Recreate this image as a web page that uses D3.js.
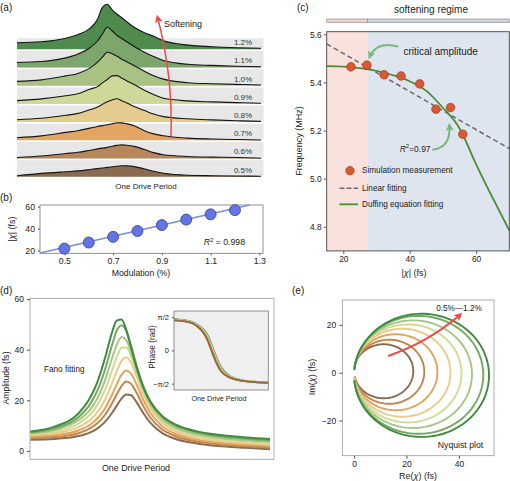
<!DOCTYPE html>
<html><head><meta charset="utf-8">
<script src="https://cdn.jsdelivr.net/npm/d3@7"></script>
<style>
body{margin:0;background:#fff}
svg{display:block;font-family:"Liberation Sans",Arial,sans-serif}
</style></head><body>
<svg id="c" width="510" height="481"></svg>
<script>
// ---------------- DATA ----------------
const levels = ["0.5%","0.6%","0.7%","0.8%","0.9%","1.0%","1.1%","1.2%"];
const modulation = [0.5,0.6,0.7,0.8,0.9,1.0,1.1,1.2];

// (a) waterfall heights on a shared grid (fraction of one drive period)
const waterGrid = [0,.1,.2,.25,.3,.33,.35,.37,.39,.41,.43,.45,.48,.52,.56,.6,.7,.8,.9,1];
const water05 = [1,3.3,5,5.8,7.2,8.1,8.7,9.3,9.9,10.4,11,10.8,10.1,8,5.4,3.5,1.5,1,0.7,0.4];
const water06 = [1,2.5,5,6.2,8.3,9.6,10.4,11.1,12.2,13.1,13.6,13.3,12.1,9.2,5.9,3.7,2,1.4,1,0.3];
const water07 = [2.6,4.4,7.9,9.6,12.2,13.8,14.7,15.6,16.6,17.5,17.4,16.5,14.6,9.8,6.4,4.5,2.2,1.3,0.8,0.3];
const water08 = [2.4,3.8,6.8,8.7,12.5,15.1,17.8,20.3,22.2,23.4,21.2,19,15.5,11.8,8,5.5,3.3,2.2,1.4,0.7];
const water09 = [3.3,5,8.1,10.1,14.8,17.3,21,24.4,28,28.3,25.6,23,19.3,14,9.4,5.6,3,2,1.3,0.7];
const water10 = [4.3,5.8,9.8,12.2,17.8,23.5,28.5,33.5,32,29.5,26.5,24,20,14.8,10,6.6,3,2,1.3,0.7];
const water11 = [5,6,9.6,13.5,20,26.5,33.5,40.5,36.5,32,28.8,25.7,21,15.6,11,7,3.2,2.1,1.3,0.7];
const water12 = [6.6,7.5,11,14.8,21.2,30,42,45,39.5,35,31.5,27.5,22,16.8,13,8.5,4.2,2.6,1.6,1.0];
const waterfall = [water05,water06,water07,water08,water09,water10,water11,water12];

// (b) peak amplitude vs modulation
const peakAmp = [21.8,27.3,32.5,37.8,43.2,48.2,53,56.8];
const fitB_x = [0.4,1.26];
const fitB_y = [17.8,61.5];
const bTicksX = [0.5,0.7,0.9,1.1,1.3];
const bTicksY = [20,40,60];

// (c) frequency vs amplitude
const simAmp  = [22.3,27.1,32.3,37.4,43.0,47.9,52.3,56.0];
const simFreq = [5.465,5.472,5.432,5.427,5.394,5.289,5.296,5.185];
const linX = [15,70];
const linY = [5.56,5.125];
const duffX = [15,20,25,30,35,40,45,50,55,60,65,70];
const duffY = [5.468,5.466,5.46,5.448,5.43,5.405,5.365,5.295,5.21,5.06,4.92,4.785];
const criticalAmp = 27.25;
const cTicksX = [20,40,60];
const cTicksY = [4.8,5.0,5.2,5.4,5.6];

// (d) Fano-fitted amplitude curves
const fanoGrid = [0,.1,.2,.25,.28,.31,.34,.36,.38,.40,.42,.44,.47,.5,.55,.6,.7,.8,.9,1];
const fano05 = [4.45,4.73,5.87,7.37,8.94,11.37,14.97,17.9,20.7,22.3,22.0,19.7,15.1,11.2,7.07,4.9,2.87,1.87,1.22,0.7];
const fano06 = [5.04,5.48,7.01,8.98,11.0,14.1,18.7,22.3,25.6,27.4,26.5,23.5,17.9,13.2,8.5,6.0,3.64,2.53,1.84,1.29];
const fano07 = [5.63,6.18,8.08,10.45,12.9,16.6,22.1,26.3,30.1,31.8,30.5,26.9,20.4,15.1,9.8,7.0,4.38,3.18,2.41,1.87];
const fano08 = [6.27,7.0,9.41,12.3,15.4,20.0,26.6,31.5,35.6,37.0,34.8,30.3,22.8,17.0,11.1,8.0,5.14,3.84,3.03,2.47];
const fano09 = [6.6,7.6,10.8,14.5,18.2,23.9,31.7,37.1,40.8,41.0,37.4,32.0,23.9,17.9,11.9,8.8,5.85,4.5,3.7,3.1];
const fano10 = [7.0,8.3,12.1,16.4,20.9,27.6,36.4,41.9,45.0,43.8,39.1,33.0,24.6,18.6,12.6,9.45,6.47,5.06,4.26,3.67];
const fano11 = [7.3,8.9,13.3,18.7,24.0,31.8,41.7,47.5,49.7,47.3,41.5,34.7,25.8,19.6,13.5,10.25,7.13,5.66,4.82,4.2];
const fano12 = [7.7,9.6,14.8,21.2,27.4,36.3,46.7,51.5,51.9,47.8,40.9,33.96,25.4,19.5,13.8,10.7,7.63,6.2,5.33,4.74];
const fano = [fano05,fano06,fano07,fano08,fano09,fano10,fano11,fano12];
const dTicksY = [0,20,40,60];

// (d) inset phase
const phaseGrid = [0,.1,.2,.25,.3,.33,.36,.39,.42,.45,.5,.6,.7,.85,1];
const phase05 = [1.42,1.38,1.27,1.12,0.90,0.70,0.42,0.08,-0.28,-0.60,-1.00,-1.30,-1.42,-1.50,-1.53];
const phase06 = [1.42,1.38,1.27,1.13,0.92,0.73,0.46,0.12,-0.24,-0.57,-0.98,-1.29,-1.42,-1.50,-1.53];
const phase07 = [1.43,1.39,1.28,1.14,0.94,0.76,0.50,0.16,-0.20,-0.53,-0.96,-1.28,-1.41,-1.49,-1.53];
const phase08 = [1.43,1.39,1.29,1.15,0.96,0.79,0.53,0.20,-0.16,-0.49,-0.93,-1.27,-1.41,-1.49,-1.52];
const phase09 = [1.44,1.40,1.30,1.16,0.98,0.82,0.57,0.24,-0.12,-0.45,-0.90,-1.26,-1.40,-1.49,-1.52];
const phase10 = [1.45,1.41,1.31,1.18,1.00,0.85,0.61,0.28,-0.08,-0.41,-0.87,-1.25,-1.40,-1.48,-1.52];
const phase11 = [1.46,1.42,1.32,1.19,1.02,0.88,0.65,0.32,-0.04,-0.37,-0.84,-1.24,-1.39,-1.48,-1.51];
const phase12 = [1.47,1.43,1.33,1.20,1.04,0.90,0.68,0.36,0.00,-0.33,-0.81,-1.23,-1.39,-1.48,-1.51];
const phase = [phase05,phase06,phase07,phase08,phase09,phase10,phase11,phase12];
const phaseTickVals = [Math.PI/2,0,-Math.PI/2];
const phaseTickLabels = ["π/2","0","−π/2"];

// (e) Nyquist circles (diameter along Re, vertical centre offset)
const nyqDiam = [22.6,26.8,31.8,36.8,41,45,49.3,51.5];
const nyqCenterY = [0.6,0.4,0.2,0,-0.3,-0.6,-0.9,-1.1];
const eTicksX = [0,20,40];
const eTicksY = [-20,0,20];

// ---------------- STYLE ----------------
const fillColors = ["#8b6b4f","#b7875c","#e2a562","#e3cc8e","#cdd899","#a7c283","#7da66d","#4f8b4d"];
const lineColors = ["#8b6a4e","#c4854b","#e4a25a","#ebcb8c","#cfdb93","#a6c683","#74a863","#3f8a3e"];
const FONT = '"Liberation Sans", Arial, sans-serif';
const svg = d3.select("#c");
const defs = svg.append("defs");
function marker(id,color,size){
  defs.append("marker").attr("id",id).attr("viewBox","0 0 10 10")
    .attr("refX",7).attr("refY",5).attr("markerWidth",size).attr("markerHeight",size)
    .attr("orient","auto").attr("markerUnits","userSpaceOnUse")
    .append("path").attr("d","M0,0L10,5L0,10L2.5,5z").attr("fill",color);
}
marker("redArrow","#f04848",8);
marker("grnArrow","#78b878",8);

function txt(g,x,y,s,size,o={}){
  const t=g.append("text").attr("x",x).attr("y",y).attr("font-size",size)
    .attr("fill",o.fill||"#222").attr("text-anchor",o.anchor||"start")
    .attr("dominant-baseline","central").attr("font-family",FONT).text(s);
  if(o.rotate) t.attr("transform",`rotate(-90,${x},${y})`);
  if(o.italic) t.attr("font-style","italic");
  return t;
}
function styleAxis(g,size){
  g.select(".domain").remove();
  g.selectAll("text").attr("font-size",size).attr("fill","#222").attr("font-family",FONT);
  g.selectAll("line").attr("stroke","#555");
}
function chiLabel(g,x,y,pre,post,size,rotate){
  const t=g.append("text").attr("x",x).attr("y",y).attr("font-size",size).attr("fill","#222")
    .attr("text-anchor","middle").attr("dominant-baseline","central").attr("font-family",FONT);
  t.append("tspan").text(pre);
  t.append("tspan").attr("font-style","italic").text("χ");
  t.append("tspan").text(post);
  if(rotate) t.attr("transform",`rotate(-90,${x},${y})`);
}
function r2Label(g,x,y,val,size,anchor){
  const t=g.append("text").attr("x",x).attr("y",y).attr("font-size",size).attr("fill","#222")
    .attr("text-anchor",anchor).attr("dominant-baseline","central").attr("font-family",FONT);
  t.append("tspan").attr("font-style","italic").text("R");
  t.append("tspan").attr("font-size",size*0.7).attr("dy",-size*0.35).text("2");
  t.append("tspan").attr("dy",size*0.35).text(val);
}

// ---------------- (a) ----------------
const gA = svg.append("g");
txt(gA,0,7,"(a)",10);
const ax = d3.scaleLinear().domain([0,1]).range([17,261]);
const aBase = d3.scaleLinear().domain([0,7]).range([176.7,49.3]);
const aH = d3.scaleLinear().domain([0,50]).range([0,50]);
for(let i=7;i>=0;i--){
  const b = aBase(i);
  const bandH = i===7 ? 11 : 16.5;
  gA.append("rect").attr("x",ax(0)).attr("y",b-bandH).attr("width",ax(1)+2.5-ax(0)).attr("height",bandH).attr("fill","#e7e7e7");
  const pts = waterGrid.map((f,j)=>[f,waterfall[i][j]]);
  gA.append("path").attr("d",d3.area().x(d=>ax(d[0])).y0(b).y1(d=>b-aH(d[1])).curve(d3.curveMonotoneX)(pts))
    .attr("fill",fillColors[i]);
  gA.append("path").attr("d",d3.line().x(d=>ax(d[0])).y(d=>b-aH(d[1])).curve(d3.curveMonotoneX)(pts))
    .attr("fill","none").attr("stroke","#151515").attr("stroke-width",1.1);
  txt(gA,243,b-6.7,levels[i],8,{anchor:"middle",fill:"#333"});
}
gA.append("path").attr("d","M171,136 Q173,76 157.5,17").attr("fill","none")
  .attr("stroke","#f04848").attr("stroke-width",1.5).attr("marker-end","url(#redArrow)");
txt(gA,164,24,"Softening",9);
txt(gA,146,186,"One Drive Period",8,{anchor:"middle"});

// ---------------- (b) ----------------
const gB = svg.append("g");
txt(gB,0,197,"(b)",10);
const bx = d3.scaleLinear().domain([0.4,1.315]).range([40,263]);
const by = d3.scaleLinear().domain([17.5,61.5]).range([253.3,205]);
gB.append("rect").attr("x",40).attr("y",205).attr("width",223).attr("height",48.3).attr("fill","none").attr("stroke","#777").attr("stroke-width",0.8);
gB.append("line").attr("x1",bx(fitB_x[0])).attr("y1",by(fitB_y[0])).attr("x2",bx(fitB_x[1])).attr("y2",by(fitB_y[1]))
  .attr("stroke","#7d8cd6").attr("stroke-width",1.5);
gB.selectAll("circle.pt").data(modulation).join("circle").attr("class","pt")
  .attr("cx",d=>bx(d)).attr("cy",(d,i)=>by(peakAmp[i])).attr("r",5.5)
  .attr("fill","#6275e2").attr("stroke","#34408f").attr("stroke-width",0.8);
const bxa = gB.append("g").attr("transform","translate(0,253.3)").call(d3.axisBottom(bx).tickValues(bTicksX).tickFormat(d3.format(".1f")).tickSize(2).tickPadding(3));
styleAxis(bxa,8.7);
const bya = gB.append("g").attr("transform","translate(40,0)").call(d3.axisLeft(by).tickValues(bTicksY).tickSize(2).tickPadding(3));
styleAxis(bya,8.7);
r2Label(gB,245,242,"\u00a0= 0.998",8.7,"end");
chiLabel(gB,12,229,"|","| (fs)",9,true);
txt(gB,141,273,"Modulation (%)",8.7,{anchor:"middle"});

// ---------------- (c) ----------------
const gC = svg.append("g");
txt(gC,297,7,"(c)",10);
const cx = d3.scaleLinear().domain([15,70]).range([326.7,509.3]);
const cy = d3.scaleLinear().domain([4.7,5.611]).range([250.9,31.7]);
txt(gC,431,9,"softening regime",10,{anchor:"middle"});
gC.append("rect").attr("x",cx(15)).attr("y",19).attr("width",cx(criticalAmp)-cx(15)).attr("height",3.3).attr("fill","#f4d3cb").attr("stroke","#8a8a8a").attr("stroke-width",0.7);
gC.append("rect").attr("x",cx(criticalAmp)).attr("y",19).attr("width",cx(70)-cx(criticalAmp)).attr("height",3.3).attr("fill","#cbd5e4").attr("stroke","#8a8a8a").attr("stroke-width",0.7);
gC.append("rect").attr("x",cx(15)).attr("y",cy(5.611)).attr("width",cx(criticalAmp)-cx(15)).attr("height",cy(4.7)-cy(5.611)).attr("fill","#fae2dc");
gC.append("rect").attr("x",cx(criticalAmp)).attr("y",cy(5.611)).attr("width",cx(70)-cx(criticalAmp)).attr("height",cy(4.7)-cy(5.611)).attr("fill","#dfe5ef");
gC.append("line").attr("x1",cx(linX[0])).attr("y1",cy(linY[0])).attr("x2",cx(linX[1])).attr("y2",cy(linY[1]))
  .attr("stroke","#6b6b6f").attr("stroke-width",1.5).attr("stroke-dasharray","5,3");
gC.append("path").attr("d",d3.line().x(d=>cx(d[0])).y(d=>cy(d[1])).curve(d3.curveMonotoneX)(duffX.map((v,i)=>[v,duffY[i]])))
  .attr("fill","none").attr("stroke","#4a8c38").attr("stroke-width",1.8);
gC.selectAll("circle.pt").data(simAmp).join("circle").attr("class","pt")
  .attr("cx",d=>cx(d)).attr("cy",(d,i)=>cy(simFreq[i])).attr("r",4.3)
  .attr("fill","#dc5733").attr("stroke","#9c3c22").attr("stroke-width",0.7);
gC.append("rect").attr("x",cx(15)).attr("y",cy(5.611)).attr("width",cx(70)-cx(15)).attr("height",cy(4.7)-cy(5.611)).attr("fill","none").attr("stroke","#444").attr("stroke-width",0.9);
const cxa = gC.append("g").attr("transform",`translate(0,${cy(4.7)})`).call(d3.axisBottom(cx).tickValues(cTicksX).tickSize(3).tickPadding(2));
styleAxis(cxa,8.4);
const cya = gC.append("g").attr("transform",`translate(${cx(15)},0)`).call(d3.axisLeft(cy).tickValues(cTicksY).tickFormat(d3.format(".1f")).tickSize(3).tickPadding(2));
styleAxis(cya,8.4);
txt(gC,299,141,"Frequency (MHz)",9,{anchor:"middle",rotate:true});
chiLabel(gC,414,273,"|","| (fs)",9,false);
// annotations
gC.append("path").attr("d",`M${cx(36.6)},${cy(5.549)} Q${cx(30.1)},${cy(5.575)} ${cx(27.9)},${cy(5.506)}`)
  .attr("fill","none").attr("stroke","#78b878").attr("stroke-width",2).attr("marker-end","url(#grnArrow)");
txt(gC,cx(38.1),cy(5.527),"critical amplitude",10);
gC.append("path").attr("d",`M${cx(46.8)},${cy(5.12)} Q${cx(52.4)},${cy(5.128)} ${cx(52.0)},${cy(5.222)}`)
  .attr("fill","none").attr("stroke","#78b878").attr("stroke-width",2).attr("marker-end","url(#grnArrow)");
r2Label(gC,cx(46.3),cy(5.124),"=0.97",8.5,"end");
// legend
gC.append("circle").attr("cx",350).attr("cy",170.7).attr("r",4.2).attr("fill","#dc5733").attr("stroke","#9c3c22").attr("stroke-width",0.7);
txt(gC,362,170.7,"Simulation measurement",8.2);
gC.append("line").attr("x1",339.5).attr("x2",358).attr("y1",188.3).attr("y2",188.3).attr("stroke","#6b6b6f").attr("stroke-width",1.5).attr("stroke-dasharray","5,2");
txt(gC,362,188.3,"Linear fitting",8.2);
gC.append("line").attr("x1",339.5).attr("x2",358).attr("y1",204.3).attr("y2",204.3).attr("stroke","#4a8c38").attr("stroke-width",1.8);
txt(gC,362,204.3,"Duffing equation fitting",8.2);

// ---------------- (d) ----------------
const gD = svg.append("g");
txt(gD,0,290,"(d)",10);
const dx = d3.scaleLinear().domain([0,1]).range([30.5,270]);
const dy = d3.scaleLinear().domain([-3.3,60.3]).range([459.3,298.3]);
gD.append("rect").attr("x",30).attr("y",298.3).attr("width",244).attr("height",161).attr("fill","none").attr("stroke","#999").attr("stroke-width",0.8);
fano.forEach((arr,i)=>{
  gD.append("path").attr("d",d3.line().x(d=>dx(d[0])).y(d=>dy(d[1])).curve(d3.curveMonotoneX)(fanoGrid.map((f,j)=>[f,arr[j]])))
    .attr("fill","none").attr("stroke",lineColors[i]).attr("stroke-width",2);
});
const dya = gD.append("g").attr("transform","translate(30,0)").call(d3.axisLeft(dy).tickValues(dTicksY).tickSize(3).tickPadding(3));
styleAxis(dya,8.5);
txt(gD,5.5,378,"Amplitude (fs)",8.6,{anchor:"middle",rotate:true});
txt(gD,136,468.3,"One Drive Period",8.9,{anchor:"middle"});
txt(gD,44,369,"Fano fitting",8.2);
// inset
const px = d3.scaleLinear().domain([0,1]).range([174,268.3]);
const py = d3.scaleLinear().domain([-1.87,1.86]).range([390,311]);
gD.append("rect").attr("x",174).attr("y",311).attr("width",94.3).attr("height",79).attr("fill","#efefef").attr("stroke","#777").attr("stroke-width",0.8);
for(let i=7;i>=0;i--){
  gD.append("path").attr("d",d3.line().x(d=>px(d[0])).y(d=>py(d[1])).curve(d3.curveMonotoneX)(phaseGrid.map((f,j)=>[f,phase[i][j]])))
    .attr("fill","none").attr("stroke",lineColors[i]).attr("stroke-width",1.8);
}
const pya = gD.append("g").attr("transform","translate(174,0)").call(d3.axisLeft(py).tickValues(phaseTickVals).tickFormat((d,i)=>phaseTickLabels[i]).tickSize(2).tickPadding(3));
styleAxis(pya,7.5);
txt(gD,151.5,347,"Phase (rad)",8.3,{anchor:"middle",rotate:true});
txt(gD,219,398.5,"One Drive Period",7.2,{anchor:"middle"});

// ---------------- (e) ----------------
const gE = svg.append("g");
txt(gE,292,290,"(e)",10);
const ex = d3.scaleLinear().domain([-4.5,53.4]).range([342.3,494]);
const ey = d3.scaleLinear().domain([-34.7,30.4]).range([455.7,300]);
gE.append("rect").attr("x",342.3).attr("y",300).attr("width",151.7).attr("height",155.7).attr("fill","none").attr("stroke","#999").attr("stroke-width",0.8);
nyqDiam.forEach((D,i)=>{
  const r=D/2, c0=r, c1=nyqCenterY[i], gap=2.2/r;
  const ang=d3.range(0,121).map(k=>gap+k*(2*Math.PI-2*gap)/120);
  const pts=ang.map(t=>[c0-r*Math.cos(t), c1+r*Math.sin(t)]);
  gE.append("path").attr("d",d3.line().x(d=>ex(d[0])).y(d=>ey(d[1]))(pts))
    .attr("fill","none").attr("stroke",lineColors[i]).attr("stroke-width",1.9);
});
const exa = gE.append("g").attr("transform","translate(0,455.7)").call(d3.axisBottom(ex).tickValues(eTicksX).tickSize(3).tickPadding(2));
styleAxis(exa,8.5);
const eya = gE.append("g").attr("transform","translate(342.3,0)").call(d3.axisLeft(ey).tickValues(eTicksY).tickFormat(d=>d<0?"−"+Math.abs(d):d).tickSize(3).tickPadding(3));
styleAxis(eya,8.5);
gE.append("path").attr("d",`M${ex(13)},${ey(7)} Q${ex(28.2)},${ey(12.6)} ${ex(40.6)},${ey(24.3)}`)
  .attr("fill","none").attr("stroke","#f04848").attr("stroke-width",2).attr("marker-end","url(#redArrow)");
txt(gE,459,308.5,"0.5%—1.2%",8.2,{anchor:"middle"});
txt(gE,460.5,445,"Nyquist plot",8.7,{anchor:"middle"});
chiLabel(gE,418,475.5,"Re(",") (fs)",9,false);
chiLabel(gE,311.7,377,"Im(",") (fs)",9,true);
</script>
</body></html>
